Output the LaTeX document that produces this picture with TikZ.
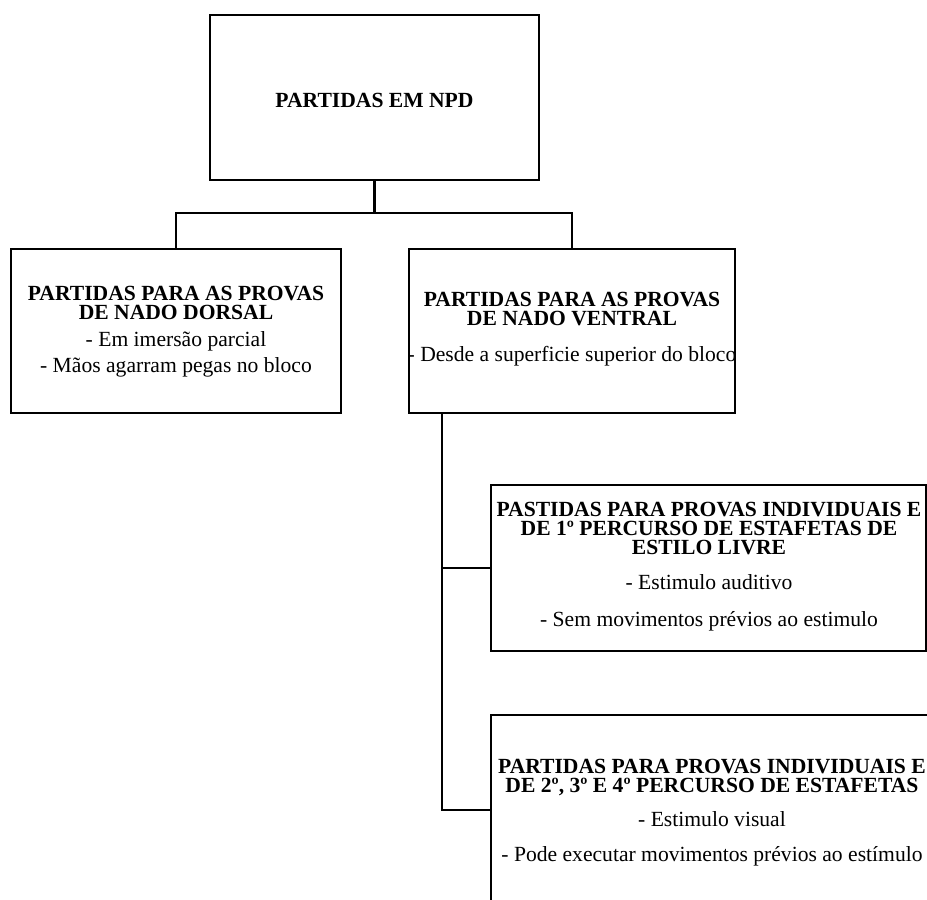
\documentclass[tikz,border=0pt]{standalone}
\usepackage{fontspec}
\setmainfont{Liberation Serif}
\begin{document}
\begin{tikzpicture}[x=1pt,y=-1pt,
  box/.style={draw=black,line width=2.5pt,rectangle,inner sep=0pt},
  link/.style={draw=black,line width=2.5pt},
  hd/.style={anchor=center,inner sep=0pt,align=center,font=\fontsize{21.6}{19}\selectfont\bfseries},
  tx/.style={anchor=base,inner sep=0pt,font=\fontsize{21.6}{21.6}\selectfont}]
\useasboundingbox (0,0) rectangle (927,900);
\clip (0,0) rectangle (927,900);
% boxes
\node[box,minimum width=329pt,minimum height=165pt] (top) at (374.5,97.5) {};
\node[box,minimum width=330pt,minimum height=164pt] (b1) at (176,331) {};
\node[box,minimum width=326pt,minimum height=164pt] (b2) at (572,331) {};
\node[box,minimum width=435pt,minimum height=166pt] (b3) at (708.5,568) {};
\node[box,minimum width=444pt,minimum height=190pt] (b4) at (713,810) {};
% texts
\node[hd] (ttop) at (374.5,100) {PARTIDAS EM NPD};
\node[hd] (t1a) at (176,303.3) {PARTIDAS PARA AS PROVAS\\DE NADO DORSAL};
\node[tx] (t1c) at (176,346) {- Em imersão parcial};
\node[tx] (t1d) at (176,372) {- Mãos agarram pegas no bloco};
\node[hd] (t2a) at (572,309.3) {PARTIDAS PARA AS PROVAS\\DE NADO VENTRAL};
\node[tx] (t2c) at (572,361) {- Desde a superficie superior do bloco};
\node[hd] (t3a) at (709,528.9) {PASTIDAS PARA PROVAS INDIVIDUAIS E\\DE 1º PERCURSO DE ESTAFETAS DE\\ESTILO LIVRE};
\node[tx] (t3d) at (709,589) {- Estimulo auditivo};
\node[tx] (t3e) at (709,626) {- Sem movimentos prévios ao estimulo};
\node[hd] (t4a) at (712,777.9) {PARTIDAS PARA PROVAS INDIVIDUAIS E\\DE 2º, 3º E 4º PERCURSO DE ESTAFETAS};
\node[tx] (t4c) at (712,826) {- Estimulo visual};
\node[tx] (t4d) at (712,861) {- Pode executar movimentos prévios ao estímulo};
% connectors
\coordinate (j1) at (374.5,213);
\coordinate (sp) at (442,413);
\draw[link] (top.south) -- (j1);
\draw[link] (b1.north) |- (j1) -| (b2.north);
\draw[link] (sp) |- (b4.west);
\draw[link] (sp |- b3.west) -- (b3.west);
\end{tikzpicture}
\end{document}
